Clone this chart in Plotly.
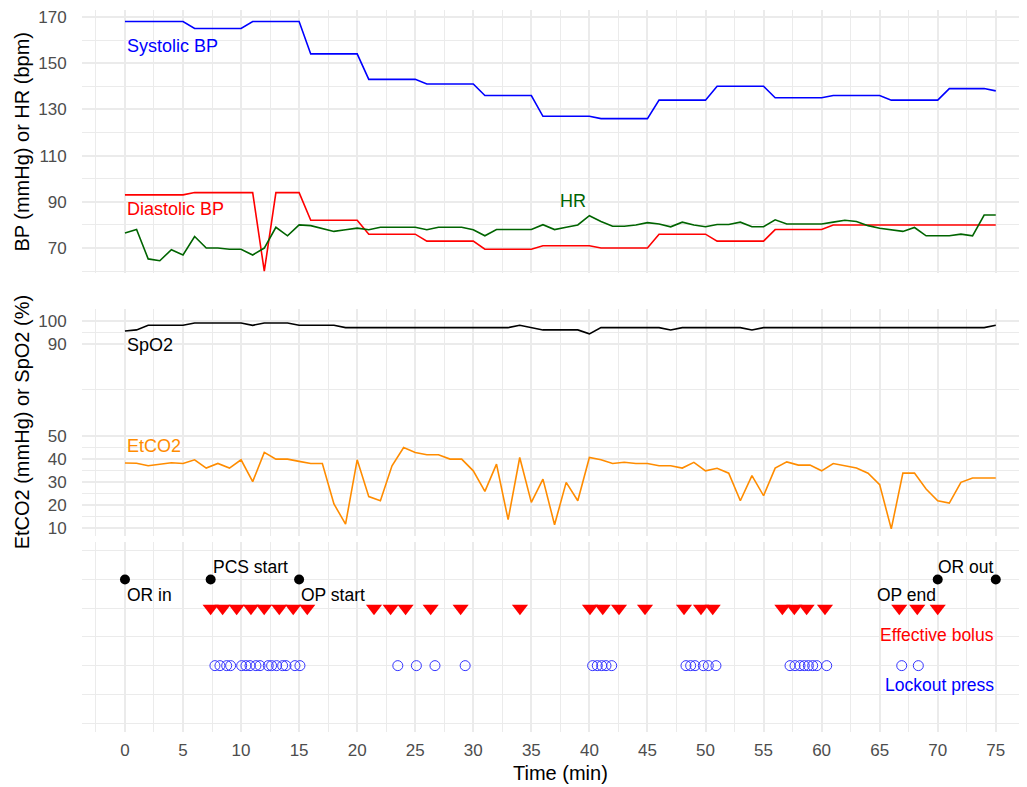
import plotly.graph_objects as go

# ---------------- data ----------------
time_min = list(range(76))

systolic = [168] * 6 + [165] * 5 + [168] * 5 + [154] * 5 + [143] * 5 + [141] * 5 + \
           [136] * 5 + [127] * 5 + [126] * 5 + [134] * 5 + [140] * 5 + [135] * 5 + \
           [136] * 5 + [134] * 5 + [139] * 4 + [138]

diastolic = [93] * 6 + [94] * 6 + [60] + [94] * 3 + [82] * 5 + [76] * 5 + [73] * 5 + \
            [69.5] * 5 + [71] * 5 + [70] * 5 + [76] * 5 + [73] * 5 + [78] * 5 + [80] * 15

hr = [76.5, 78, 65.3, 64.5, 69.3, 67, 75, 70, 70, 69.5,
      69.5, 67, 70, 79, 75.3, 80, 79.7, 78.3, 77.2, 77.9,
      78.6, 77.9, 79, 79, 79, 79, 77.9, 79, 79, 79,
      77.9, 75.3, 78, 78, 78, 78, 80.1, 78, 79, 80,
      84, 81.5, 79.4, 79.4, 80, 81, 80.4, 79.2, 81.2, 80,
      79.2, 80.2, 80.2, 81.2, 79.2, 79.2, 82.2, 80.4, 80.4, 80.4,
      80.4, 81.2, 82, 81.5, 79.7, 78.6, 77.8, 77.2, 78.9, 75.3,
      75.3, 75.3, 76, 75.3, 84.3, 84.3]

spo2 = [95.5, 96, 98, 98, 98, 98, 99, 99, 99, 99, 99, 98, 99, 99, 99, 98, 98, 98, 98, 97] + \
       [97] * 14 + [98, 97] + [96] * 4 + [94.3] + [97] * 6 + [96] + [97] * 6 + [96] + \
       [97] * 20 + [98]

etco2 = [38.2, 38.1, 37, 37.7, 38.3, 38, 39.6, 36, 38, 36,
         39.6, 30.1, 42.8, 39.9, 39.9, 38.9, 38, 38, 20.4, 11.7,
         39.6, 23.6, 21.8, 37, 44.9, 42.8, 41.8, 41.8, 39.9, 39.9,
         34.8, 25.9, 37.7, 13.6, 40.6, 21.1, 31.2, 11.4, 29.8, 21.8,
         40.6, 39.6, 38, 38.5, 38, 38, 37, 37, 36, 38.5,
         34.8, 35.9, 33.8, 21.8, 32.7, 24, 36, 38.7, 37.3, 37.3,
         34.8, 38, 37, 36, 33.8, 28.8, 9.6, 33.8, 33.8, 26.9,
         21.8, 20.8, 29.8, 31.7, 31.7, 31.7]

bolus_times = [7.38, 8.41, 9.62, 10.85, 11.99, 13.29, 14.49, 15.70, 21.45, 22.88,
               24.17, 26.33, 28.91, 34.02, 40.05, 41.15, 42.55, 44.79, 48.15, 49.61,
               50.62, 56.62, 57.65, 58.71, 60.29, 66.69, 68.24, 70.0]

lockout_times = [7.75, 8.18, 8.76, 9.1, 10.05, 10.42, 10.77, 11.28, 11.63, 12.34,
                 12.63, 13.06, 13.58, 13.87, 14.64, 15.07, 23.5, 25.1, 26.7, 29.3,
                 40.28, 40.68, 41.06, 41.43, 41.92, 48.32, 48.72, 49.1, 49.81, 50.24,
                 50.9, 57.28, 57.71, 58.14, 58.51, 58.86, 59.23, 59.58, 60.44, 66.9, 68.33]

event_names = ["OR in", "PCS start", "OP start", "OP end", "OR out"]
event_times = [0, 7.38, 15, 70, 75]

x_ticks = list(range(0, 80, 5))
top_ticks = [70, 90, 110, 130, 150, 170]
mid_ticks = [10, 20, 30, 40, 50, 90, 100]

# ---------------- figure ----------------
EVENT_ROW, BOLUS_ROW, LOCK_ROW = 5, 4, 2
FONT = "Liberation Sans, Arial, sans-serif"
GRID = "#EBEBEB"
TICKFONT = dict(family=FONT, size=17, color="#4D4D4D")
PLOT_W = 945  # plot-area width in px

fig = go.Figure()

# top panel
fig.add_trace(go.Scatter(x=time_min, y=systolic, mode="lines", line=dict(color="#0000FF", width=1.6),
                         xaxis="x2", yaxis="y2"))
fig.add_trace(go.Scatter(x=time_min, y=diastolic, mode="lines", line=dict(color="#FF0000", width=1.6),
                         xaxis="x2", yaxis="y2"))
fig.add_trace(go.Scatter(x=time_min, y=hr, mode="lines", line=dict(color="#006400", width=1.6),
                         xaxis="x2", yaxis="y2"))
# middle panel
fig.add_trace(go.Scatter(x=time_min, y=spo2, mode="lines", line=dict(color="#000000", width=1.6),
                         xaxis="x3", yaxis="y3"))
fig.add_trace(go.Scatter(x=time_min, y=etco2, mode="lines", line=dict(color="#FF8C00", width=1.6),
                         xaxis="x3", yaxis="y3"))
# bottom panel
fig.add_trace(go.Scatter(x=event_times, y=[EVENT_ROW] * len(event_times), mode="markers",
                         marker=dict(color="black", size=10), xaxis="x", yaxis="y"))
fig.add_trace(go.Scatter(x=bolus_times, y=[BOLUS_ROW] * len(bolus_times), mode="markers",
                         marker=dict(color="#FF0000", size=14, symbol="triangle-down",
                                     line=dict(width=0)), xaxis="x", yaxis="y"))
fig.add_trace(go.Scatter(x=lockout_times, y=[LOCK_ROW] * len(lockout_times), mode="markers",
                         marker=dict(color="#3333FF", size=10, symbol="circle-open",
                                     line=dict(color="#3333FF", width=1)), xaxis="x", yaxis="y"))

xcommon = dict(range=[-3.70, 77.69], tickmode="array", tickvals=x_ticks, showgrid=True,
               gridcolor=GRID, gridwidth=1.8, zeroline=False, showline=False,
               ticks="outside", ticklen=3, tickcolor="rgba(0,0,0,0)",
               minor=dict(tickmode="linear", tick0=-2.5, dtick=5, showgrid=True, gridcolor=GRID,
                          gridwidth=1, ticks=""))

ycommon = dict(showgrid=True, gridcolor=GRID, gridwidth=1.8, zeroline=False, showline=False,
               ticks="outside", ticklen=11, tickcolor="rgba(0,0,0,0)", tickfont=TICKFONT,
               tickmode="array", ticklabeloverflow="allow")

fig.update_layout(
    width=1019, height=779,
    margin=dict(l=74, r=0, t=0, b=55),
    plot_bgcolor="white", paper_bgcolor="white",
    showlegend=False,
    font=dict(family=FONT, size=16, color="#4D4D4D"),
    xaxis=dict(**xcommon, anchor="y", domain=[0, 1], showticklabels=True, tickfont=TICKFONT),
    xaxis2=dict(**xcommon, anchor="y2", domain=[0, 1], matches="x", showticklabels=False),
    xaxis3=dict(**xcommon, anchor="y3", domain=[0, 1], matches="x", showticklabels=False),
    yaxis=dict(ycommon, domain=[0, 0.2638], range=[-0.31, 6.32], tickvals=[0, 1, 2, 3, 4, 5, 6],
               showticklabels=False, gridwidth=1.4),
    yaxis2=dict(ycommon, domain=[0.6354, 1.0], range=[59.1, 173.0], tickvals=top_ticks,
                minor=dict(tickmode="array", tickvals=[60, 80, 100, 120, 140, 160],
                           showgrid=True, gridcolor=GRID, gridwidth=1, ticks="")),
    yaxis3=dict(ycommon, domain=[0.2721, 0.5856], range=[6.7, 105], tickvals=mid_ticks,
                minor=dict(tickmode="array", tickvals=[15, 25, 35, 45, 70, 95],
                           showgrid=True, gridcolor=GRID, gridwidth=1, ticks="")),
)

def label(text, x, y, xref, yref, color, xanchor="left", size=18):
    fig.add_annotation(text=text, x=x, y=y, xref=xref, yref=yref, showarrow=False,
                       xanchor=xanchor, yanchor="middle", font=dict(family=FONT, size=size, color=color))

# series labels
label("Systolic BP", 0, 157.6, "x2", "y2", "#0000FF")
label("Diastolic BP", 0, 87.0, "x2", "y2", "#FF0000")
label("HR", 38.6, 90.2, "x2", "y2", "#006400", xanchor="center")
label("SpO2", 0, 89.6, "x3", "y3", "#000000")
label("EtCO2", 0, 45.6, "x3", "y3", "#FF8C00")

# event labels
label("OR in", 0, 4.45, "x", "y", "black", "left", 17.5)
label("PCS start", event_times[1], 5.45, "x", "y", "black", "left", 17.5)
label("OP start", 15, 4.45, "x", "y", "black", "left", 17.5)
label("OP end", 70, 4.45, "x", "y", "black", "right", 17.5)
label("OR out", 75, 5.45, "x", "y", "black", "right", 17.5)
label("Effective bolus", 75, 3.08, "x", "y", "#FF0000", "right", 17.5)
label("Lockout press", 75, 1.31, "x", "y", "#0000FF", "right", 17.5)

# axis titles
fig.add_annotation(text="BP (mmHg) or HR (bpm)", x=(22 - 82) / PLOT_W, y=(0.6354 + 1.0) / 2,
                   xref="paper", yref="paper", showarrow=False, textangle=-90,
                   xanchor="center", yanchor="middle", font=dict(family=FONT, size=20, color="black"))
fig.add_annotation(text="EtCO2 (mmHg) or SpO2 (%)", x=(22 - 82) / PLOT_W, y=(0.2721 + 0.5856) / 2,
                   xref="paper", yref="paper", showarrow=False, textangle=-90,
                   xanchor="center", yanchor="middle", font=dict(family=FONT, size=20, color="black"))
fig.add_annotation(text="Time (min)", x=(560 - 82) / PLOT_W, y=(732 - 773) / 724,
                   xref="paper", yref="paper", showarrow=False,
                   xanchor="center", yanchor="middle", font=dict(family=FONT, size=20, color="black"))

fig.write_html("out.html")
